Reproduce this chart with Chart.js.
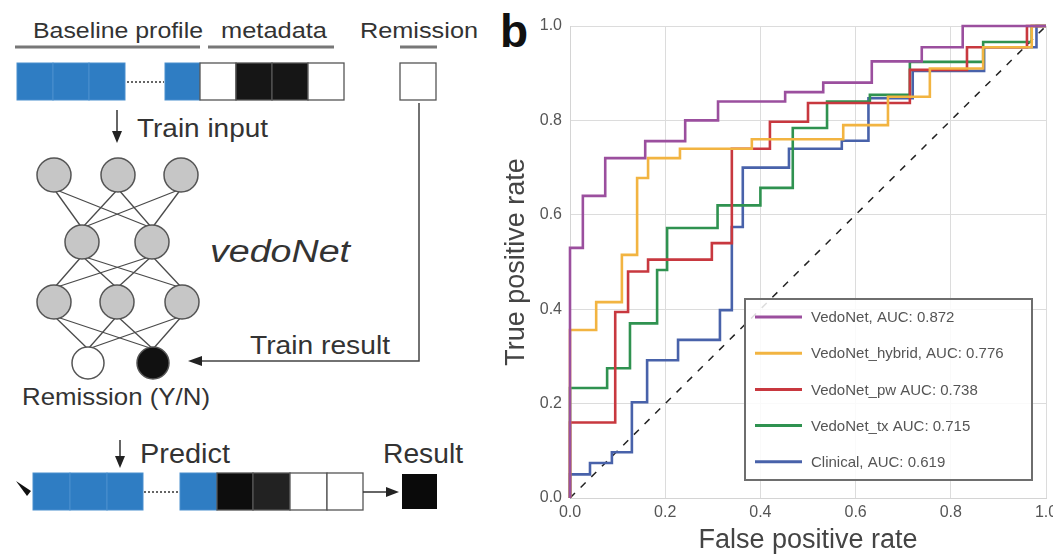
<!DOCTYPE html>
<html>
<head>
<meta charset="utf-8">
<title>vedoNet ROC</title>
<script src="https://cdn.jsdelivr.net/npm/chart.js@4.4.1/dist/chart.umd.min.js"></script>
<style>
  html, body { margin: 0; padding: 0; background: #fff; width: 1053px; height: 554px; overflow: hidden; }
  #schema { position: absolute; left: 0; top: 0; }
  #roc-wrap { position: absolute; left: 490px; top: 0; width: 590px; height: 554px; }
  #tag { position: absolute; left: 500px; top: 8px; font: bold 46px/46px "Liberation Sans", Arial, sans-serif; color: #111; }
  svg text { font-family: "Liberation Sans", Arial, sans-serif; fill: #333; }
</style>
</head>
<body>
<svg id="schema" width="490" height="554" xmlns="http://www.w3.org/2000/svg"></svg>
<div id="tag">b</div>
<div id="roc-wrap"><canvas id="roc"></canvas></div>
<script>
// ROC curves: each point is (fpr, tpr) at the top of a vertical rise
const fprVedoNet = [0, 0, 0.027, 0.074, 0.158, 0.242, 0.311, 0.452, 0.532, 0.634, 0.739, 0.825, 1];
const tprVedoNet = [0, 0.53, 0.64, 0.72, 0.756, 0.80, 0.84, 0.86, 0.88, 0.925, 0.955, 1.0, 1];

const fprHybrid = [0, 0, 0.055, 0.109, 0.141, 0.164, 0.231, 0.382, 0.574, 0.668, 0.756, 0.868, 0.97, 1];
const tprHybrid = [0, 0.356, 0.415, 0.515, 0.678, 0.72, 0.74, 0.76, 0.79, 0.85, 0.91, 0.955, 1.0, 1];

const fprPw = [0, 0, 0.095, 0.122, 0.164, 0.298, 0.34, 0.42, 0.5, 0.714, 0.834, 0.96, 1];
const tprPw = [0, 0.16, 0.394, 0.48, 0.505, 0.54, 0.74, 0.797, 0.837, 0.907, 0.955, 1.0, 1];

const fprTx = [0, 0, 0.078, 0.126, 0.183, 0.204, 0.31, 0.4, 0.468, 0.54, 0.63, 0.714, 0.868, 0.97, 1];
const tprTx = [0, 0.233, 0.275, 0.37, 0.483, 0.572, 0.62, 0.657, 0.784, 0.84, 0.854, 0.924, 0.966, 1.0, 1];

const fprClinical = [0, 0, 0.042, 0.088, 0.13, 0.162, 0.227, 0.315, 0.34, 0.363, 0.46, 0.571, 0.627, 0.72, 0.87, 0.98, 1];
const tprClinical = [0, 0.05, 0.074, 0.097, 0.203, 0.292, 0.335, 0.398, 0.574, 0.70, 0.74, 0.757, 0.847, 0.905, 0.955, 1.0, 1];

const seriesLabels = [
  "VedoNet, AUC: 0.872",
  "VedoNet_hybrid, AUC: 0.776",
  "VedoNet_pw AUC: 0.738",
  "VedoNet_tx AUC: 0.715",
  "Clinical, AUC: 0.619",
];
const seriesColors = ["#9b4f9e", "#f2b441", "#c8383f", "#2f9250", "#4862aa"];
const axisTicks = [0, 0.2, 0.4, 0.6, 0.8, 1.0];

const FONT = '"Liberation Sans", Arial, sans-serif';

// ---------- panel a: network schematic ----------
const svg = document.getElementById("schema");
const NS = "http://www.w3.org/2000/svg";
function el(tag, attrs, text) {
  const e = document.createElementNS(NS, tag);
  for (const k in attrs) e.setAttribute(k, attrs[k]);
  if (text) e.textContent = text;
  svg.appendChild(e);
  return e;
}

const BLUE = "#2f7dc3";
function cellRow(y, cells) {
  cells.forEach(([x, w, fill]) => {
    el("rect", {
      x, y, width: w, height: 37, fill,
      stroke: fill === BLUE ? "#4a8fce" : "#555", "stroke-width": fill === BLUE ? 1 : 1.3,
    });
  });
}
function label(x, y, size, len, text, extra) {
  el("text", Object.assign({ x, y, "font-size": size, textLength: len, lengthAdjust: "spacingAndGlyphs" }, extra || {}), text);
}
function line(x1, y1, x2, y2, attrs) {
  el("line", Object.assign({ x1, y1, x2, y2, stroke: "#333", "stroke-width": 1.5 }, attrs || {}));
}

// header labels
label(33, 38, 22, 170, "Baseline profile");
label(221, 38, 22, 106, "metadata");
label(360, 38, 22, 118, "Remission");
line(15, 47, 200, 47, { stroke: "#777", "stroke-width": 3 });
line(208, 47, 334, 47, { stroke: "#777", "stroke-width": 3 });
line(400, 47, 437, 47, { stroke: "#777", "stroke-width": 3 });

// training input vector
cellRow(63, [[17, 36, BLUE], [53, 36, BLUE], [89, 36, BLUE], [165, 35, BLUE],
  [200, 36, "#fff"], [236, 36, "#161616"], [272, 36, "#161616"], [308, 36, "#fff"]]);
line(127, 82, 164, 82, { "stroke-dasharray": "2 2", "stroke-width": 1.6 });
cellRow(63, [[400, 36, "#fff"]]);

// train input arrow
line(117, 110, 117, 134);
el("polygon", { points: "112,131 122,131 117,143", fill: "#222" });
label(137, 137, 26, 131, "Train input");

// train result feedback path
el("polyline", { points: "419,103 419,361 200,361", fill: "none", stroke: "#444", "stroke-width": 1.5 });
el("polygon", { points: "188,361 202,356 202,366", fill: "#222" });
label(250, 354, 26, 140, "Train result");

// network
const layers = [
  [[54, 175], [118, 175], [181, 175]],
  [[82, 242], [152, 242]],
  [[54, 302], [117, 302], [182, 302]],
  [[88, 363], [153, 363]],
];
const R = 17;
for (let l = 0; l < layers.length - 1; l++) {
  layers[l].forEach(([x1, y1]) => {
    layers[l + 1].forEach(([x2, y2]) => {
      line(x1, y1 + R - 3, x2, y2 - R + 3, { stroke: "#4a4a4a", "stroke-width": 1.3 });
    });
  });
}
layers.forEach((nodes, l) => {
  nodes.forEach(([x, y], i) => {
    let fill = "#c6c6c6";
    if (l === layers.length - 1) fill = i === 0 ? "#fff" : "#111";
    el("circle", { cx: x, cy: y, r: l === layers.length - 1 ? 16 : R, fill, stroke: "#555", "stroke-width": 1.5 });
  });
});
label(210, 262, 31, 140, "vedoNet", { "font-style": "italic" });
label(22, 405, 24, 188, "Remission (Y/N)");

// prediction row
line(120, 440, 120, 459);
el("polygon", { points: "115,456 125,456 120,468", fill: "#222" });
label(140, 463, 27, 90, "Predict");
label(383, 463, 27, 80, "Result");
cellRow(473, [[33, 37, BLUE], [70, 37, BLUE], [107, 36, BLUE], [180, 37, BLUE],
  [217, 36, "#0d0d0d"], [253, 37, "#222"], [290, 37, "#fff"], [327, 36, "#fff"]]);
line(144, 492, 179, 492, { "stroke-dasharray": "2 2", "stroke-width": 1.6 });
line(363, 492, 388, 492);
el("polygon", { points: "399,492 386,487 386,497", fill: "#222" });
el("rect", { x: 402, y: 474, width: 35, height: 35, fill: "#0a0a0a" });
el("polygon", { points: "16,481 31,491 27,496", fill: "#111" });

// ---------- panel b: ROC chart ----------
const toPoints = (fpr, tpr) => fpr.map((x, i) => ({ x, y: tpr[i] }));
const rocData = [
  toPoints(fprVedoNet, tprVedoNet),
  toPoints(fprHybrid, tprHybrid),
  toPoints(fprPw, tprPw),
  toPoints(fprTx, tprTx),
  toPoints(fprClinical, tprClinical),
];

const datasets = rocData.map((data, i) => ({
  label: seriesLabels[i],
  data,
  borderColor: seriesColors[i],
  borderWidth: 2.6,
  stepped: "before",
  pointRadius: 0,
  clip: 6,
}));
datasets.push({
  label: "chance",
  data: [{ x: 0, y: 0 }, { x: 1, y: 1 }],
  borderColor: "#222",
  borderWidth: 1.5,
  borderDash: [7, 8],
  pointRadius: 0,
  clip: 6,
});

// legend box drawn inside the plot, lower right
const insideLegend = {
  id: "insideLegend",
  afterDatasetsDraw(chart) {
    const { ctx, chartArea } = chart;
    const w = 287, h = 181;
    const x0 = chartArea.right - 14 - w;
    const y0 = chartArea.bottom - 18 - h;
    ctx.save();
    ctx.fillStyle = "rgba(255,255,255,0.85)";
    ctx.fillRect(x0, y0, w, h);
    ctx.strokeStyle = "#6e6e6e";
    ctx.lineWidth = 2;
    ctx.strokeRect(x0, y0, w, h);
    ctx.font = "15px " + FONT;
    ctx.textBaseline = "middle";
    seriesLabels.forEach((text, i) => {
      const y = y0 + 18 + i * 36.2;
      ctx.strokeStyle = seriesColors[i];
      ctx.lineWidth = 3;
      ctx.beginPath();
      ctx.moveTo(x0 + 10, y);
      ctx.lineTo(x0 + 57, y);
      ctx.stroke();
      ctx.fillStyle = "#555";
      ctx.fillText(text, x0 + 66, y + 1);
    });
    ctx.restore();
  },
};

const gridStyle = { color: "#dcdcdc", drawTicks: false };
const tickFont = { size: 16, family: FONT };
const fixedTicks = (s) => { s.ticks = axisTicks.map((v) => ({ value: v })); };

new Chart(document.getElementById("roc"), {
  type: "line",
  data: { datasets },
  options: {
    responsive: true,
    maintainAspectRatio: false,
    animation: false,
    layout: { padding: { top: 26, right: 34, left: 0, bottom: 0 } },
    plugins: { legend: { display: false }, tooltip: { enabled: false } },
    scales: {
      x: {
        type: "linear", min: 0, max: 1,
        afterBuildTicks: fixedTicks,
        afterFit: (s) => { s.height = 56; },
        grid: gridStyle,
        border: { color: "#d4d4d4" },
        ticks: { padding: 5, color: "#555", font: tickFont, callback: (v) => Number(v).toFixed(1) },
        title: { display: true, text: "False positive rate", color: "#444", font: { size: 27, lineHeight: 1, family: FONT }, padding: 0 },
      },
      y: {
        type: "linear", min: 0, max: 1,
        afterBuildTicks: fixedTicks,
        afterFit: (s) => { s.width = 80; },
        grid: gridStyle,
        border: { color: "#d4d4d4" },
        ticks: { padding: 8, color: "#555", font: tickFont, callback: (v) => Number(v).toFixed(1) },
        title: { display: true, text: "True positive rate", color: "#444", font: { size: 27, lineHeight: 1, family: FONT }, padding: { top: 13, bottom: 0 } },
      },
    },
  },
  plugins: [insideLegend],
});
</script>
</body>
</html>
